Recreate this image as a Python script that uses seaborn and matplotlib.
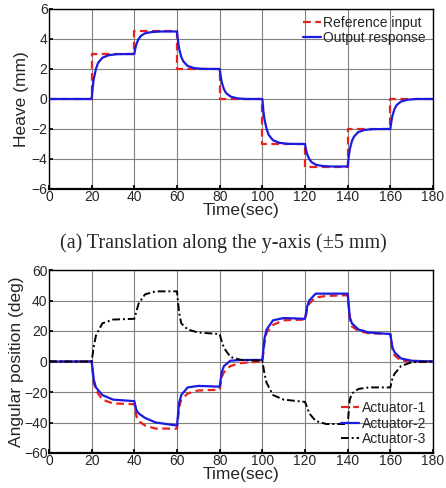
import numpy as np
import pandas as pd
import matplotlib
matplotlib.use("Agg")
import matplotlib.pyplot as plt
import seaborn as sns

# ---- heave test (top panel) ----
ref_t = [0, 20, 20, 40, 40, 60, 60, 80, 80, 100, 100, 120, 120, 140, 140, 160, 160, 180]
ref_y = [0, 0, 3, 3, 4.5, 4.5, 2, 2, 0, 0, -3, -3, -4.5, -4.5, -2, -2, 0, 0]

out_t = [0, 20, 20.5, 21, 22, 23, 25, 28, 32,
         40, 40.5, 41, 42, 43, 45, 48, 52,
         60, 60.5, 61, 62, 63, 65, 68, 72,
         80, 80.5, 81, 82, 83, 85, 88, 92,
         100, 100.5, 101, 102, 103, 105, 108, 112,
         120, 120.5, 121, 122, 123, 125, 128, 132,
         140, 140.5, 141, 142, 143, 145, 148, 152,
         160, 160.5, 161, 162, 163, 165, 168, 172, 180]
out_y = [0, 0, 0.8, 1.35, 2.0, 2.4, 2.75, 2.92, 2.99,
         3.0, 3.4, 3.68, 4.0, 4.2, 4.38, 4.46, 4.5,
         4.5, 3.85, 3.35, 2.8, 2.5, 2.2, 2.06, 2.01,
         2.0, 1.5, 1.1, 0.65, 0.4, 0.17, 0.05, 0.0,
         0.0, -0.8, -1.35, -2.0, -2.4, -2.75, -2.92, -2.99,
         -3.0, -3.4, -3.68, -4.0, -4.2, -4.38, -4.46, -4.5,
         -4.5, -3.85, -3.35, -2.8, -2.5, -2.2, -2.06, -2.01,
         -2.0, -1.5, -1.1, -0.65, -0.4, -0.17, -0.05, 0.0, 0.0]

# ---- actuator angles (bottom panel) ----
act_t = [0, 20, 21, 22, 25, 30,
         40, 41, 42, 45, 50,
         60, 61, 62, 65, 70,
         80, 81, 82, 85, 90,
         100, 101, 102, 105, 110,
         120, 121, 122, 125, 130,
         140, 141, 142, 145, 150,
         160, 161, 162, 165, 170, 180]
act1 = [0, 0, -14, -19, -25, -27.5,
        -28, -36, -39, -42, -44,
        -44, -30, -25, -21, -19,
        -18.5, -10, -7, -3, -1,
        0, 12, 19, 24, 27,
        27.5, 34, 38, 42, 43,
        43.5, 28, 23, 20, 18.5,
        18, 8, 4, 0.5, 0, 0]
act2 = [0, 0, -12, -17, -22, -25,
        -26, -32, -34, -37, -40,
        -42, -27, -22, -17, -16,
        -16.5, -7, -3, 0.5, 1,
        1, 15, 21, 27, 28.5,
        28, 36, 40, 44.5, 44.5,
        44.5, 29, 25, 21, 19,
        18, 9, 6, 2, 0.5, 0]
act3 = [0, 0, 10, 17, 25, 27.5,
        28, 33, 38, 44, 46,
        46, 32, 25, 21, 19,
        18, 13, 9, 3, 1,
        0.5, -8, -14, -22, -25,
        -26.5, -30, -34, -39, -41,
        -41, -25, -21, -18, -17,
        -17, -11, -8, -3, -0.5, 0]

sns.set_theme(style="ticks")
plt.rcParams['font.family'] = ['Liberation Sans', 'DejaVu Sans']

fig = plt.figure(figsize=(4.46, 4.88), dpi=100)
ax1 = fig.add_axes([49 / 446, 1 - 189 / 488, 384 / 446, 180 / 488])
ax2 = fig.add_axes([49 / 446, 1 - 453 / 488, 384 / 446, 183 / 488])

top = pd.DataFrame({"t": ref_t, "y": ref_y})
resp = pd.DataFrame({"t": out_t, "y": out_y})
sns.lineplot(data=top, x="t", y="y", ax=ax1, color="#e8231e", lw=1.6,
             linestyle=(0, (3.5, 2)), label="Reference input",
             sort=False, estimator=None)
sns.lineplot(data=resp, x="t", y="y", ax=ax1, color="#1a1ae0", lw=1.6,
             label="Output response", sort=False, estimator=None)

acts = pd.DataFrame({"t": act_t, "a1": act1, "a2": act2, "a3": act3})
sns.lineplot(data=acts, x="t", y="a1", ax=ax2, color="#e8231e", lw=1.6,
             linestyle=(0, (3.5, 2)), label="Actuator-1", sort=False, estimator=None)
sns.lineplot(data=acts, x="t", y="a2", ax=ax2, color="#1a1ae0", lw=1.6,
             label="Actuator-2", sort=False, estimator=None)
sns.lineplot(data=acts, x="t", y="a3", ax=ax2, color="black", lw=1.4,
             linestyle=(0, (4, 1.5, 1, 1.5)), label="Actuator-3",
             sort=False, estimator=None)

for ax, lim, step in [(ax1, 6, 2), (ax2, 60, 20)]:
    ax.set_xlim(0, 180)
    ax.set_ylim(-lim, lim)
    ax.set_xticks(np.arange(0, 181, 20))
    ax.set_yticks(np.arange(-lim, lim + 1, step))
    ax.grid(True, color="#808080", lw=0.8)
    ax.tick_params(direction="in", length=3, pad=1, labelsize=10, color="black")
    for s in ax.spines.values():
        s.set_color("black")
        s.set_linewidth(1.0)
    ax.spines["bottom"].set_linewidth(1.6)
    ax.set_xlabel("Time(sec)", fontsize=12.5, labelpad=-1)
    ax.legend(frameon=False, fontsize=10, handlelength=1.3, handletextpad=0.2,
              labelspacing=0.1, borderaxespad=0.1)

ax1.set_ylabel("Heave (mm)", fontsize=12.5, labelpad=2)
ax2.set_ylabel("Angular position (deg)", fontsize=12.5, labelpad=0)
ax1.legend_.set_loc("upper right")
ax2.legend_.set_loc("lower right")

fig.text(0.5, 1 - 243 / 488, "(a) Translation along the y-axis (\u00b15 mm)",
         ha="center", va="center", fontsize=14.5, family=["Liberation Serif"])

fig.savefig("out.png", dpi=100)
